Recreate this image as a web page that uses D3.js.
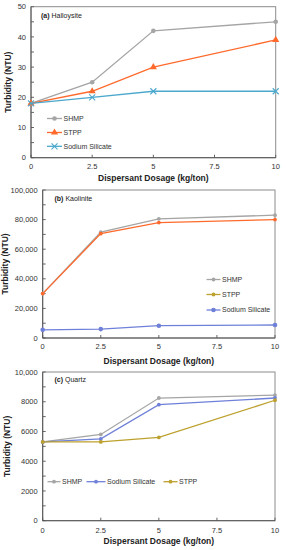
<!DOCTYPE html>
<html><head><meta charset="utf-8">
<script src="https://cdn.jsdelivr.net/npm/d3@7"></script>
<style>html,body{margin:0;padding:0;background:#fff;}svg{display:block;}</style>
</head><body>
<script>
// ---- data ----
const dosage = [0, 2.5, 5, 10];
const xTicks = [0, 2.5, 5, 7.5, 10];

const halloysiteSHMP = [18, 25, 42, 45];
const halloysiteSTPP = [18, 22, 30, 39];
const halloysiteSilicate = [18, 20, 22, 22];
const yTicksA = [0, 10, 20, 30, 40, 50];

const kaoliniteSHMP = [30000, 71500, 80500, 83000];
const kaoliniteSTPP = [30000, 70500, 78000, 80000];
const kaoliniteSilicate = [5500, 6000, 8300, 8800];
const yTicksB = [0, 20000, 40000, 60000, 80000, 100000];

const quartzSHMP = [5300, 5800, 8250, 8450];
const quartzSilicate = [5300, 5500, 7800, 8250];
const quartzSTPP = [5300, 5300, 5600, 8100];
const yTicksC = [0, 2000, 4000, 6000, 8000, 10000];

const W = 286, H = 550;
const svg = d3.select("body").append("svg").attr("width", W).attr("height", H);
const FONT = "'Liberation Sans', Arial, sans-serif";

function drawMarker(g, shape, x, y, color) {
  if (shape === "circle") {
    g.append("circle").attr("cx", x).attr("cy", y).attr("r", 2.3).attr("fill", color);
  } else if (shape === "smallcircle") {
    g.append("circle").attr("cx", x).attr("cy", y).attr("r", 1.9).attr("fill", color);
  } else if (shape === "triangle") {
    g.append("path").attr("d", d3.symbol().type(d3.symbolTriangle).size(22)()).attr("transform", `translate(${x},${y})`).attr("fill", color);
  } else if (shape === "x") {
    g.append("path").attr("d", `M${x-3},${y-3}L${x+3},${y+3}M${x-3},${y+3}L${x+3},${y-3}`).attr("stroke", color).attr("stroke-width", 1.1).attr("fill", "none");
  }
}

function panel(cfg) {
  const g = svg.append("g");
  const x = d3.scaleLinear().domain([0, 10]).range([cfg.left, cfg.right]);
  const y = d3.scaleLinear().domain([0, cfg.ymax]).range([cfg.bottom, cfg.top]);

  // frame
  g.append("rect").attr("x", cfg.left).attr("y", cfg.top).attr("width", cfg.right - cfg.left).attr("height", cfg.bottom - cfg.top)
    .attr("fill", "none").attr("stroke", "#8c8c8c").attr("stroke-width", 1);

  // y ticks (major + minor, inside)
  const minorY = [];
  for (let i = 0; i < cfg.yTicks.length - 1; i++) minorY.push((cfg.yTicks[i] + cfg.yTicks[i + 1]) / 2);
  cfg.yTicks.concat(minorY).forEach(v => {
    g.append("line").attr("x1", cfg.left).attr("x2", cfg.left + 3).attr("y1", y(v)).attr("y2", y(v)).attr("stroke", "#666").attr("stroke-width", 1);
  });
  xTicks.forEach(v => {
    g.append("line").attr("x1", x(v)).attr("x2", x(v)).attr("y1", cfg.bottom).attr("y2", cfg.bottom - 3).attr("stroke", "#666").attr("stroke-width", 1);
  });
  // axis lines
  g.append("line").attr("x1", cfg.left).attr("x2", cfg.left).attr("y1", cfg.top).attr("y2", cfg.bottom).attr("stroke", "#555");
  g.append("line").attr("x1", cfg.left).attr("x2", cfg.right).attr("y1", cfg.bottom).attr("y2", cfg.bottom).attr("stroke", "#555");

  // tick labels
  cfg.yTicks.forEach(v => {
    g.append("text").attr("x", cfg.left - 5).attr("y", y(v)).attr("dy", "0.35em").attr("text-anchor", "end")
      .attr("font-family", FONT).attr("font-size", 7.5).attr("fill", "#333").text(cfg.yFmt(v));
  });
  xTicks.forEach(v => {
    g.append("text").attr("x", x(v)).attr("y", cfg.xLabelY).attr("dy", "0.35em").attr("text-anchor", "middle")
      .attr("font-family", FONT).attr("font-size", 7.5).attr("fill", "#333").text(v);
  });

  // axis titles
  g.append("text").attr("x", (cfg.left + cfg.right) / 2).attr("y", cfg.xTitleY).attr("dy", "0.35em").attr("text-anchor", "middle")
    .attr("font-family", FONT).attr("font-size", 8.5).attr("font-weight", "bold").attr("fill", "#222").text("Dispersant Dosage (kg/ton)");
  g.append("text").attr("transform", `translate(${cfg.yTitleX},${(cfg.top + cfg.bottom) / 2}) rotate(-90)`).attr("dy", "0.35em").attr("text-anchor", "middle")
    .attr("font-family", FONT).attr("font-size", 8.5).attr("font-weight", "bold").attr("fill", "#222").text("Turbidity (NTU)");

  // panel label
  const t = g.append("text").attr("x", cfg.titleX).attr("y", cfg.titleY).attr("dy", "0.35em")
    .attr("font-family", FONT).attr("font-size", 7).attr("fill", "#222");
  t.append("tspan").attr("font-weight", "bold").text(cfg.tag);
  t.append("tspan").text(" " + cfg.name);

  const line = d3.line().x((d, i) => x(dosage[i])).y(d => y(d));
  cfg.series.forEach(s => {
    g.append("path").datum(s.values).attr("d", line).attr("fill", "none").attr("stroke", s.lineColor || s.color).attr("stroke-width", 1.3);
    s.values.forEach((v, i) => drawMarker(g, s.marker, x(dosage[i]), y(v), s.color));
  });

  // legend
  cfg.legend.forEach(l => {
    const s = cfg.series.find(d => d.name === l.name);
    const c = l.color || s.lineColor || s.color;
    g.append("line").attr("x1", l.x).attr("x2", l.x + l.len).attr("y1", l.y).attr("y2", l.y).attr("stroke", c).attr("stroke-width", 1.3);
    drawMarker(g, s.marker, l.x + l.len / 2, l.y, c);
    g.append("text").attr("x", l.x + l.len + 1.5).attr("y", l.y).attr("dy", "0.35em")
      .attr("font-family", FONT).attr("font-size", 7).attr("fill", "#333").text(l.name);
  });
}

const GRAY = "#a5a5a5", ORANGE = "#ff6a2c", TEAL = "#4ba8cc", BLUE = "#6f80d8", GOLD = "#bda12e";

panel({
  left: 31, right: 275.7, top: 6.7, bottom: 157.7, ymax: 50, yTicks: yTicksA, yFmt: d3.format(","),
  xLabelY: 166.7, xTitleY: 178, yTitleX: 8.5, titleX: 41, titleY: 16, tag: "(a)", name: "Halloysite",
  series: [
    { name: "SHMP", values: halloysiteSHMP, color: GRAY, marker: "circle" },
    { name: "STPP", values: halloysiteSTPP, color: ORANGE, marker: "triangle" },
    { name: "Sodium Silicate", values: halloysiteSilicate, color: TEAL, marker: "x" }
  ],
  legend: [
    { name: "SHMP", x: 47, y: 118.5, len: 15 },
    { name: "STPP", x: 47, y: 132.5, len: 15 },
    { name: "Sodium Silicate", x: 47, y: 146.3, len: 15 }
  ]
});

panel({
  left: 42.7, right: 275, top: 190, bottom: 338, ymax: 100000, yTicks: yTicksB, yFmt: d3.format(","),
  xLabelY: 346, xTitleY: 361, yTitleX: 5.5, titleX: 54.5, titleY: 199, tag: "(b)", name: "Kaolinite",
  series: [
    { name: "SHMP", values: kaoliniteSHMP, color: GRAY, marker: "smallcircle" },
    { name: "STPP", values: kaoliniteSTPP, color: ORANGE, lineColor: ORANGE, marker: "smallcircle" },
    { name: "Sodium Silicate", values: kaoliniteSilicate, color: BLUE, marker: "circle" }
  ],
  legend: [
    { name: "SHMP", x: 206.5, y: 279.5, len: 14 },
    { name: "STPP", x: 206.5, y: 294.5, len: 14, color: GOLD },
    { name: "Sodium Silicate", x: 206.5, y: 310, len: 14 }
  ]
});

panel({
  left: 42.7, right: 275, top: 372, bottom: 520.7, ymax: 10000, yTicks: yTicksC, yFmt: v => v === 10000 ? "10,000" : String(v),
  xLabelY: 530.7, xTitleY: 541, yTitleX: 7.5, titleX: 54.5, titleY: 380, tag: "(c)", name: "Quartz",
  series: [
    { name: "SHMP", values: quartzSHMP, color: GRAY, marker: "smallcircle" },
    { name: "Sodium Silicate", values: quartzSilicate, color: BLUE, marker: "smallcircle" },
    { name: "STPP", values: quartzSTPP, color: GOLD, marker: "smallcircle" }
  ],
  legend: [
    { name: "SHMP", x: 47.5, y: 481.7, len: 13 },
    { name: "Sodium Silicate", x: 86.5, y: 481.7, len: 19 },
    { name: "STPP", x: 163.5, y: 481.7, len: 14 }
  ]
});
</script>
</body></html>
